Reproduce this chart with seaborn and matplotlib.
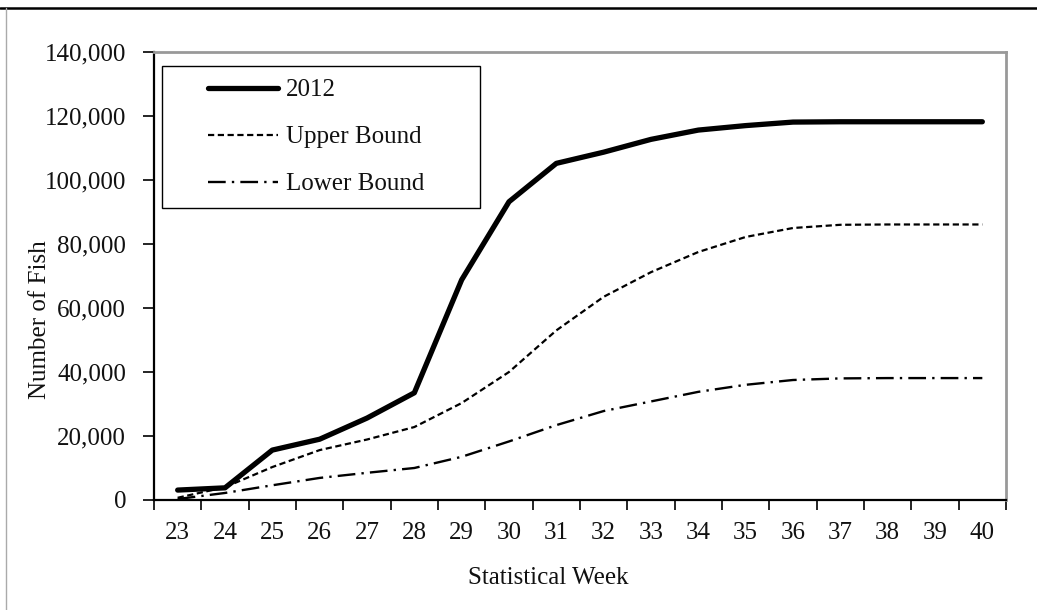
import numpy as np
import pandas as pd
import matplotlib
matplotlib.use("Agg")
import matplotlib.pyplot as plt
from matplotlib.ticker import FuncFormatter, FixedLocator, NullFormatter
from matplotlib.patches import Rectangle
from matplotlib.lines import Line2D
import seaborn as sns

weeks = [23, 24, 25, 26, 27, 28, 29, 30, 31, 32, 33, 34, 35, 36, 37, 38, 39, 40]
catch_2012 = [3100, 3800, 15600, 19000, 25600, 33500, 68800, 93200, 105200, 108700,
              112700, 115600, 117000, 118100, 118200, 118200, 118200, 118200]
upper_bound = [700, 4000, 10300, 15600, 18900, 22800, 30300, 40000, 53000, 63500,
               71200, 77500, 82200, 85000, 86000, 86100, 86100, 86100]
lower_bound = [300, 2200, 4600, 6900, 8500, 10000, 13500, 18300, 23400, 27800,
               30800, 33800, 36000, 37500, 38000, 38100, 38100, 38100]
y_ticks = [0, 20000, 40000, 60000, 80000, 100000, 120000, 140000]

sns.set_style("white")
plt.rcParams['font.family'] = ['Liberation Serif', 'DejaVu Serif']
FS = 18

fig = plt.figure(figsize=(10.37, 6.10), dpi=100)
ax = fig.add_axes([154/1037, 1 - 500/610, (1006-154)/1037, (500-52)/610])

sns.lineplot(x=weeks, y=catch_2012, ax=ax, color='black', linewidth=3.8,
             solid_capstyle='round', label='2012')
sns.lineplot(x=weeks, y=upper_bound, ax=ax, color='black', linewidth=1.6,
             linestyle=(0, (2.8, 1.6)), label='Upper Bound')
sns.lineplot(x=weeks, y=lower_bound, ax=ax, color='black', linewidth=1.7,
             linestyle=(0, (7.5, 2.6, 1.0, 2.6)), label='Lower Bound')

ax.set_xlim(weeks[0] - 0.5, weeks[-1] + 0.5)
ax.set_ylim(y_ticks[0], y_ticks[-1])

# x: ticks at category boundaries, labels at centers
ax.xaxis.set_major_locator(FixedLocator(np.arange(weeks[0] - 0.5, weeks[-1] + 1.0, 1.0)))
ax.xaxis.set_major_formatter(NullFormatter())
ax.xaxis.set_minor_locator(FixedLocator(weeks))
ax.set_xticklabels([str(w) for w in weeks], minor=True)
ax.tick_params(axis='x', which='major', direction='out', length=7, width=1.2,
               color='black', bottom=True)
ax.tick_params(axis='x', which='minor', length=0, pad=16, labelsize=FS,
               labelcolor='#111111', bottom=True)

ax.set_yticks(y_ticks)
ax.yaxis.set_major_formatter(FuncFormatter(lambda v, p: f"{int(v):,}"))
ax.tick_params(axis='y', which='major', direction='out', length=8, width=1.2,
               color='black', left=True, pad=12, labelsize=FS, labelcolor='#111111')

for s in ['left', 'bottom']:
    ax.spines[s].set_color('black')
    ax.spines[s].set_linewidth(1.6)
for s in ['top', 'right']:
    ax.spines[s].set_color('#999999')
    ax.spines[s].set_linewidth(2.0)

ax.set_xlabel('Statistical Week', fontsize=FS, color='#111111')
ax.set_ylabel('Number of Fish', fontsize=FS, color='#111111')
ax.xaxis.label.set_va('center')
ax.yaxis.label.set_va('center')
ax.xaxis.set_label_coords((548-154)/852, (500-578)/448)
ax.yaxis.set_label_coords((40-154)/852, (500-320)/448)

# legend
leg = ax.legend(loc='upper left', bbox_to_anchor=((208-154)/852, (500-79)/448),
                borderaxespad=0, borderpad=0, frameon=False, fontsize=FS,
                handlelength=2.8, handletextpad=0.32, labelspacing=0.98)
for t in leg.get_texts():
    t.set_color('#111111')
ax.add_patch(Rectangle(((162-154)/852, (500-208)/448), (480-162)/852, (208-66)/448,
                       transform=ax.transAxes, fill=False, edgecolor='black',
                       linewidth=1.0, zorder=5))

# figure border lines
fig.add_artist(Line2D([0, 1], [1 - 7.5/610, 1 - 7.5/610], transform=fig.transFigure,
                      color='black', linewidth=1.8))
fig.add_artist(Line2D([6/1037, 6/1037], [0, 1 - 7.5/610], transform=fig.transFigure,
                      color='#aaaaaa', linewidth=1.0))

fig.savefig('out.png', dpi=100)
